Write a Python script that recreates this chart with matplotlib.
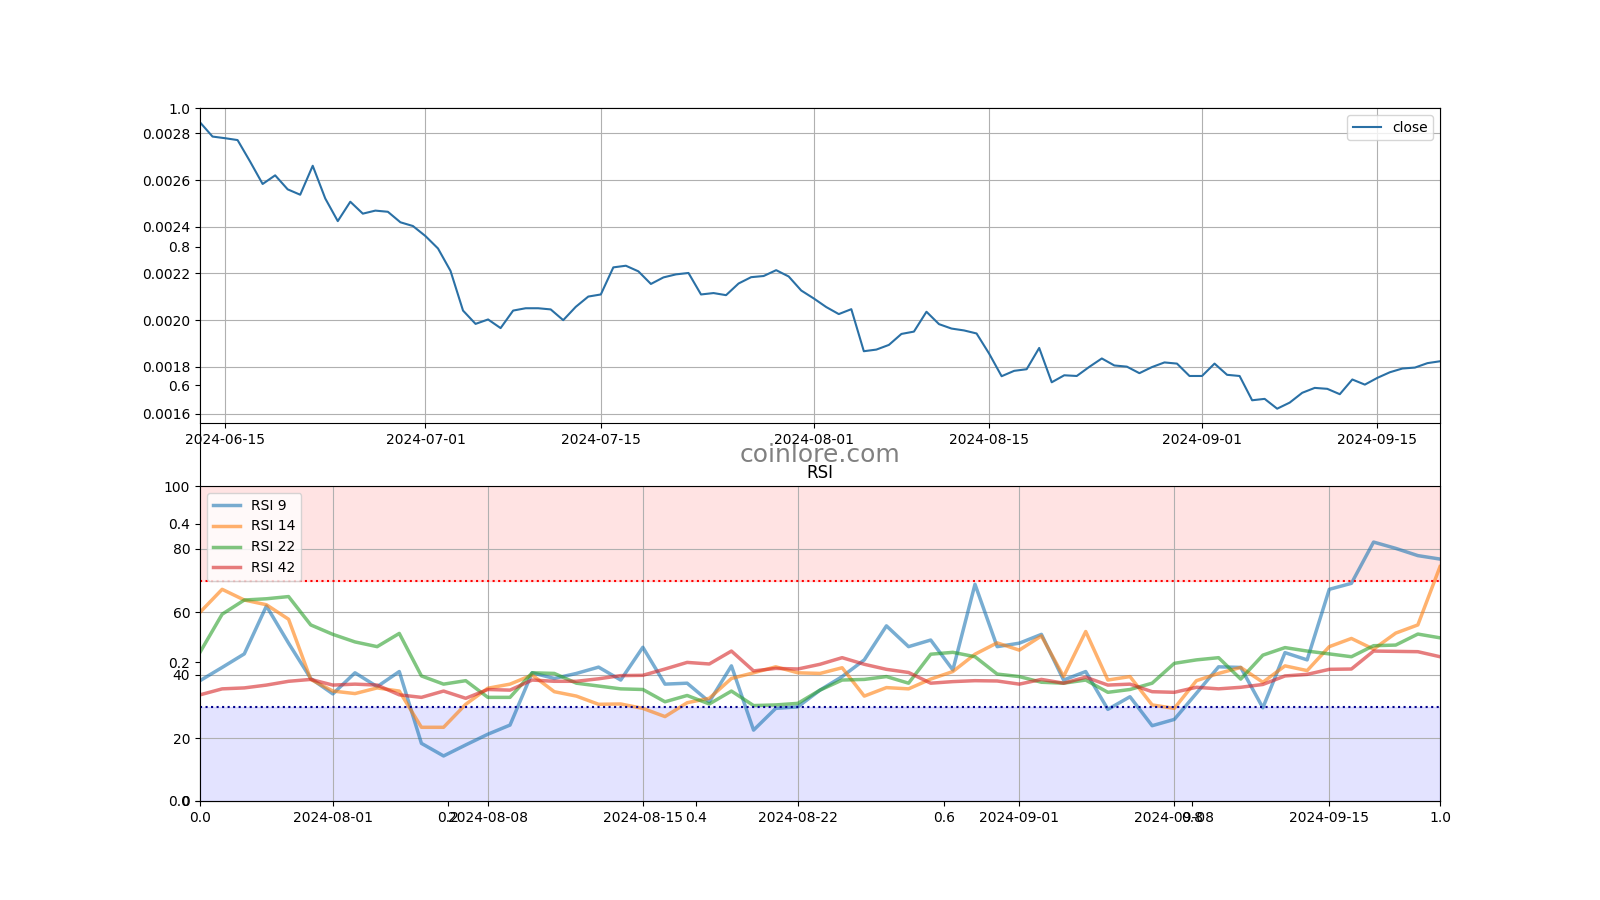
import numpy as np
import pandas as pd
import matplotlib
matplotlib.use("Agg")
import matplotlib.pyplot as plt

# ---- data ----
close_dates = pd.date_range("2024-06-13", "2024-09-20", freq="D")
close = [
    0.002847, 0.002786, 0.002779, 0.002771, 0.002679, 0.002583, 0.002620, 0.002560, 0.002537, 0.002661,
    0.002521, 0.002424, 0.002507, 0.002456, 0.002469, 0.002464, 0.002419, 0.002403, 0.002360, 0.002307,
    0.002211, 0.002041, 0.001984, 0.002003, 0.001966, 0.002041, 0.002051, 0.002051, 0.002046, 0.002000,
    0.002057, 0.002101, 0.002110, 0.002226, 0.002233, 0.002209, 0.002155, 0.002183, 0.002196, 0.002202,
    0.002110, 0.002116, 0.002107, 0.002157, 0.002184, 0.002189, 0.002214, 0.002187, 0.002127, 0.002093,
    0.002056, 0.002026, 0.002047, 0.001867, 0.001874, 0.001894, 0.001941, 0.001951, 0.002036, 0.001983,
    0.001964, 0.001956, 0.001943, 0.001857, 0.001760, 0.001783, 0.001790, 0.001881, 0.001734, 0.001764,
    0.001761, 0.001800, 0.001836, 0.001806, 0.001801, 0.001773, 0.001799, 0.001819, 0.001814, 0.001761,
    0.001761, 0.001814, 0.001766, 0.001761, 0.001657, 0.001663, 0.001621, 0.001647, 0.001689, 0.001710,
    0.001706, 0.001683, 0.001746, 0.001724, 0.001753, 0.001777, 0.001793, 0.001797, 0.001816, 0.001824,
]

rsi_dates = pd.date_range("2024-07-26", "2024-09-20", freq="D")
rsi9 = [
    38.2, 42.4, 46.7, 61.9, 50.1, 38.9, 34.0, 40.7, 36.3, 41.1,
    18.3, 14.3, 17.8, 21.2, 24.1, 40.7, 38.9, 40.5, 42.5, 38.4,
    48.8, 37.1, 37.4, 31.5, 42.9, 22.5, 29.4, 29.9, 35.2, 39.5,
    44.8, 55.6, 49.0, 51.1, 41.6, 68.8, 49.0, 50.1, 52.9, 38.4,
    41.1, 29.1, 33.1, 23.9, 25.9, 34.2, 42.6, 42.4, 29.6, 47.1,
    44.8, 67.2, 69.1, 82.2, 80.2, 77.9, 76.8,
]
rsi14 = [
    59.9, 67.2, 63.8, 62.3, 57.7, 38.6, 34.9, 34.1, 35.9, 34.9,
    23.4, 23.4, 30.7, 35.8, 37.1, 40.0, 34.7, 33.3, 30.7, 30.8,
    29.4, 26.8, 31.2, 32.6, 38.9, 40.7, 42.6, 40.7, 40.5, 42.3,
    33.3, 36.0, 35.6, 38.7, 41.1, 46.6, 50.2, 47.9, 52.4, 39.5,
    53.8, 38.4, 39.5, 30.5, 29.4, 38.2, 40.5, 42.4, 37.7, 42.9,
    41.4, 49.0, 51.6, 48.2, 53.3, 55.9, 74.4,
]
rsi22 = [
    47.2, 59.3, 63.8, 64.2, 64.9, 55.9, 52.9, 50.5, 49.0, 53.2,
    39.7, 37.1, 38.2, 32.9, 32.9, 40.7, 40.5, 37.4, 36.5, 35.6,
    35.4, 31.5, 33.5, 30.8, 34.9, 30.3, 30.5, 31.0, 35.2, 38.4,
    38.6, 39.5, 37.4, 46.6, 47.2, 45.8, 40.3, 39.5, 37.7, 37.4,
    38.4, 34.5, 35.4, 37.4, 43.7, 44.8, 45.5, 38.7, 46.3, 48.7,
    47.6, 46.7, 45.8, 49.3, 49.5, 53.0, 51.8,
]
rsi42 = [
    33.7, 35.6, 35.9, 36.8, 38.0, 38.6, 36.8, 37.1, 36.8, 33.7,
    32.9, 34.9, 32.6, 35.4, 35.2, 38.4, 38.0, 38.0, 38.8, 39.8,
    39.9, 41.9, 44.0, 43.5, 47.6, 41.3, 42.1, 41.9, 43.4, 45.5,
    43.4, 41.8, 40.8, 37.4, 37.9, 38.2, 38.1, 37.1, 38.6, 37.4,
    39.3, 36.8, 37.1, 34.7, 34.5, 36.1, 35.6, 36.1, 37.0, 39.7,
    40.2, 41.8, 41.9, 47.6, 47.5, 47.4, 45.8,
]
rsi_series = [("RSI 9", rsi9), ("RSI 14", rsi14), ("RSI 22", rsi22), ("RSI 42", rsi42)]

# ---- figure ----
fig = plt.figure(figsize=(16, 9), dpi=100)
ax0 = fig.add_subplot(111)
ax0.text(0.5, 0.5, "coinlore.com", transform=ax0.transAxes, ha="center", va="center",
         fontsize=18, color="gray")

ax1 = fig.add_subplot(211)
ax1.plot(close_dates, close, color="#2a70a5", label="close")
ax1.set_xlim(close_dates[0], close_dates[-1])
ax1.grid(True)
ax1.legend(loc="upper right")

ax2 = fig.add_subplot(212)
for name, vals in rsi_series:
    ax2.plot(rsi_dates, vals, label=name, linewidth=2.5, alpha=0.6)
ax2.axhspan(70, 100, color="red", alpha=0.11)
ax2.axhspan(0, 30, color="blue", alpha=0.11)
ax2.axhline(70, color="red", linestyle=":", linewidth=1.5)
ax2.axhline(30, color="darkblue", linestyle=":", linewidth=1.5)
ax2.set_xlim(rsi_dates[0], rsi_dates[-1])
ax2.set_ylim(0, 100)
ax2.grid(True)
ax2.set_title("RSI")
ax2.legend(loc="upper left")

fig.savefig("out.png", dpi=100)
